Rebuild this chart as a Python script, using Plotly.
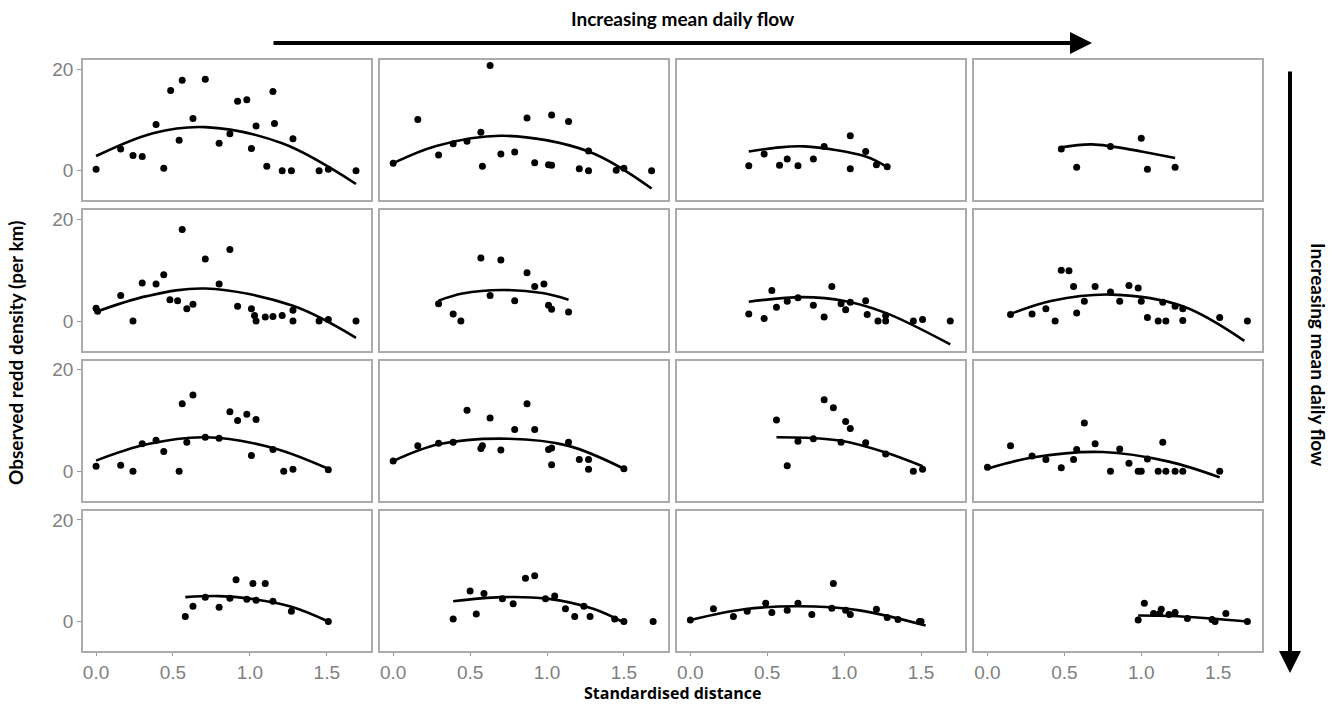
import plotly.graph_objects as go
from plotly.subplots import make_subplots

# ---------------- data ----------------
# Row 1
x_r1c1 = [0.00,0.16,0.24,0.30,0.39,0.44,0.485,0.54,0.56,0.63,0.71,0.80,0.87,0.92,0.98,1.01,1.04,1.11,1.15,1.16,1.21,1.27,1.28,1.45,1.51,1.69]
y_r1c1 = [0.3,4.3,3.0,2.8,9.1,0.5,15.8,6.0,17.8,10.3,18.0,5.4,7.3,13.7,14.0,4.4,8.8,0.9,15.6,9.3,0.0,0.0,6.3,0.0,0.3,0.0]
cx_r1c1 = [0.00,0.37,0.71,1.21,1.69]
cy_r1c1 = [2.9,7.4,8.6,5.4,-2.6]

x_r1c2 = [0.00,0.16,0.295,0.39,0.48,0.57,0.58,0.63,0.70,0.79,0.87,0.92,1.01,1.03,1.03,1.14,1.21,1.27,1.27,1.45,1.50,1.68]
y_r1c2 = [1.5,10.1,3.1,5.3,5.8,7.6,0.9,20.7,3.3,3.7,10.4,1.6,1.2,1.1,11.0,9.7,0.4,0.0,3.9,0.1,0.5,0.0]
cx_r1c2 = [0.00,0.28,0.71,1.27,1.68]
cy_r1c2 = [1.5,4.9,6.9,3.8,-3.5]

x_r1c3 = [0.38,0.48,0.58,0.63,0.70,0.80,0.87,1.04,1.04,1.14,1.21,1.28]
y_r1c3 = [1.0,3.3,1.1,2.3,1.0,2.3,4.8,6.9,0.4,3.8,1.2,0.8]
cx_r1c3 = [0.38,0.55,0.74,1.14,1.28]
cy_r1c3 = [3.8,4.5,4.8,2.8,0.7]

x_r1c4 = [0.48,0.58,0.80,1.00,1.04,1.22]
y_r1c4 = [4.3,0.7,4.8,6.4,0.3,0.7]
cx_r1c4 = [0.48,0.68,1.00,1.22]
cy_r1c4 = [4.6,5.2,3.8,2.5]

# Row 2
x_r2c1 = [0.00,0.01,0.16,0.24,0.30,0.39,0.44,0.48,0.53,0.56,0.59,0.63,0.71,0.80,0.87,0.92,1.01,1.03,1.04,1.10,1.15,1.21,1.28,1.28,1.45,1.51,1.69]
y_r2c1 = [2.5,1.9,5.0,0.0,7.5,7.3,9.1,4.2,4.0,18.0,2.4,3.3,12.2,7.3,14.1,2.9,2.4,1.1,0.0,0.8,0.9,1.1,2.1,0.0,0.0,0.3,0.0]
cx_r2c1 = [0.00,0.33,0.71,1.28,1.69]
cy_r2c1 = [1.8,4.9,6.4,3.0,-3.3]

x_r2c2 = [0.295,0.39,0.44,0.57,0.63,0.70,0.79,0.87,0.92,0.98,1.01,1.03,1.14]
y_r2c2 = [3.4,1.4,0.0,12.4,5.0,12.0,4.0,9.5,6.8,7.3,3.1,2.3,1.8]
cx_r2c2 = [0.295,0.45,0.71,0.97,1.14]
cy_r2c2 = [4.0,5.4,6.1,5.5,4.2]

x_r2c3 = [0.38,0.48,0.53,0.56,0.63,0.70,0.80,0.87,0.92,0.98,1.01,1.04,1.14,1.15,1.22,1.27,1.27,1.45,1.51,1.69]
y_r2c3 = [1.4,0.5,6.0,2.7,3.9,4.6,3.1,0.8,6.8,3.4,2.2,3.7,4.0,1.3,0.0,0.0,1.1,0.0,0.3,0.0]
cx_r2c3 = [0.38,0.73,1.01,1.27,1.69]
cy_r2c3 = [3.8,4.7,3.9,1.6,-4.6]

x_r2c4 = [0.15,0.29,0.38,0.44,0.48,0.53,0.56,0.58,0.63,0.70,0.80,0.86,0.92,0.98,1.00,1.04,1.11,1.14,1.16,1.22,1.27,1.27,1.51,1.69]
y_r2c4 = [1.3,1.4,2.4,0.0,10.0,9.9,6.8,1.6,3.9,6.8,5.7,3.9,7.0,6.5,3.9,0.7,0.0,3.7,0.0,2.9,2.4,0.1,0.7,0.0]
cx_r2c4 = [0.15,0.42,0.81,1.27,1.67]
cy_r2c4 = [1.4,4.0,5.2,2.9,-3.9]

# Row 3
x_r3c1 = [0.00,0.16,0.24,0.30,0.39,0.44,0.54,0.56,0.59,0.63,0.71,0.80,0.87,0.92,0.98,1.01,1.04,1.15,1.22,1.28,1.51]
y_r3c1 = [1.0,1.2,0.0,5.4,6.1,3.9,0.0,13.3,5.7,15.0,6.7,6.5,11.7,10.0,11.2,3.1,10.2,4.3,0.0,0.4,0.3]
cx_r3c1 = [0.00,0.33,0.71,1.15,1.51]
cy_r3c1 = [2.1,5.3,6.7,4.6,0.5]

x_r3c2 = [0.00,0.16,0.295,0.39,0.48,0.57,0.58,0.63,0.70,0.79,0.87,0.92,1.01,1.03,1.03,1.14,1.21,1.27,1.27,1.50]
y_r3c2 = [2.0,5.0,5.5,5.7,12.0,4.5,5.0,10.5,4.2,8.2,13.3,8.2,4.3,4.6,1.3,5.7,2.3,2.3,0.4,0.5]
cx_r3c2 = [0.00,0.295,0.75,1.14,1.50]
cy_r3c2 = [2.0,5.3,6.4,5.0,0.5]

x_r3c3 = [0.56,0.63,0.70,0.80,0.87,0.93,0.98,1.01,1.04,1.14,1.27,1.45,1.51]
y_r3c3 = [10.1,1.1,5.9,6.4,14.1,12.5,5.7,9.8,8.4,5.6,3.4,0.0,0.4]
cx_r3c3 = [0.56,0.75,0.98,1.27,1.51]
cy_r3c3 = [6.7,6.6,6.0,3.7,1.0]

x_r3c4 = [0.00,0.15,0.29,0.38,0.48,0.56,0.58,0.63,0.70,0.80,0.86,0.92,0.98,1.00,1.04,1.11,1.14,1.16,1.22,1.27,1.51]
y_r3c4 = [0.8,5.0,3.0,2.3,0.7,2.3,4.3,9.5,5.4,0.0,4.4,1.6,0.0,0.0,2.4,0.0,5.7,0.0,0.0,0.0,0.0]
cx_r3c4 = [0.00,0.29,0.75,1.18,1.51]
cy_r3c4 = [0.5,2.7,3.8,1.9,-1.2]

# Row 4
x_r4c1 = [0.58,0.63,0.71,0.80,0.87,0.91,0.98,1.02,1.04,1.10,1.15,1.27,1.51]
y_r4c1 = [1.0,3.0,4.8,2.8,4.6,8.2,4.4,7.5,4.2,7.5,4.0,2.0,0.0]
cx_r4c1 = [0.58,0.80,1.00,1.27,1.51]
cy_r4c1 = [4.8,5.0,4.5,2.9,0.0]

x_r4c2 = [0.39,0.50,0.54,0.59,0.71,0.78,0.86,0.92,0.99,1.05,1.12,1.18,1.24,1.28,1.44,1.50,1.69]
y_r4c2 = [0.5,6.0,1.5,5.5,4.5,3.5,8.5,9.0,4.5,5.0,2.5,1.0,3.0,1.0,0.5,0.0,0.0]
cx_r4c2 = [0.39,0.70,1.00,1.30,1.50]
cy_r4c2 = [4.0,4.8,4.5,2.5,-0.2]

x_r4c3 = [0.00,0.15,0.28,0.37,0.49,0.53,0.63,0.70,0.79,0.92,0.93,1.01,1.04,1.21,1.28,1.35,1.49,1.50]
y_r4c3 = [0.3,2.5,1.0,2.0,3.6,1.8,2.2,3.6,1.4,2.6,7.5,2.2,1.4,2.4,0.8,0.4,0.0,0.0]
cx_r4c3 = [0.00,0.35,0.70,1.10,1.53]
cy_r4c3 = [0.3,2.4,3.0,2.2,-0.8]

x_r4c4 = [0.98,1.02,1.08,1.12,1.13,1.18,1.22,1.30,1.46,1.48,1.55,1.69]
y_r4c4 = [0.3,3.6,1.6,1.6,2.4,1.4,1.8,0.6,0.4,0.0,1.6,0.0]
cx_r4c4 = [0.98,1.20,1.45,1.69]
cy_r4c4 = [1.2,1.1,0.6,0.0]

x_ticks = [0.0, 0.5, 1.0, 1.5]
x_tick_labels = ["0.0", "0.5", "1.0", "1.5"]
y_ticks = [0, 20]
y_tick_labels = ["0", "20"]

panels = [
    (1, 1, x_r1c1, y_r1c1, cx_r1c1, cy_r1c1), (1, 2, x_r1c2, y_r1c2, cx_r1c2, cy_r1c2),
    (1, 3, x_r1c3, y_r1c3, cx_r1c3, cy_r1c3), (1, 4, x_r1c4, y_r1c4, cx_r1c4, cy_r1c4),
    (2, 1, x_r2c1, y_r2c1, cx_r2c1, cy_r2c1), (2, 2, x_r2c2, y_r2c2, cx_r2c2, cy_r2c2),
    (2, 3, x_r2c3, y_r2c3, cx_r2c3, cy_r2c3), (2, 4, x_r2c4, y_r2c4, cx_r2c4, cy_r2c4),
    (3, 1, x_r3c1, y_r3c1, cx_r3c1, cy_r3c1), (3, 2, x_r3c2, y_r3c2, cx_r3c2, cy_r3c2),
    (3, 3, x_r3c3, y_r3c3, cx_r3c3, cy_r3c3), (3, 4, x_r3c4, y_r3c4, cx_r3c4, cy_r3c4),
    (4, 1, x_r4c1, y_r4c1, cx_r4c1, cy_r4c1), (4, 2, x_r4c2, y_r4c2, cx_r4c2, cy_r4c2),
    (4, 3, x_r4c3, y_r4c3, cx_r4c3, cy_r4c3), (4, 4, x_r4c4, y_r4c4, cx_r4c4, cy_r4c4),
]

# ---------------- figure ----------------
W, H = 1338, 705
L, R, T, B = 83, 76, 60, 54
pw, ph = W - L - R, H - T - B

fig = make_subplots(rows=4, cols=4,
                    horizontal_spacing=9.5 / pw,
                    vertical_spacing=10.0 / ph)

for (r, c, xs, ys, cxs, cys) in panels:
    fig.add_trace(go.Scatter(x=cxs, y=cys, mode="lines",
                             line=dict(color="black", width=2.6, shape="spline", smoothing=1.0),
                             showlegend=False, hoverinfo="skip"), row=r, col=c)
    fig.add_trace(go.Scatter(x=xs, y=ys, mode="markers",
                             marker=dict(color="black", size=7),
                             showlegend=False), row=r, col=c)

tick_font = dict(family="Liberation Sans, Arial, sans-serif", size=19, color="#808080")
for r in range(1, 5):
    for c in range(1, 5):
        fig.update_xaxes(range=[-0.085, 1.785], showgrid=False, zeroline=False,
                         showline=True, mirror=True, linecolor="#ababab", linewidth=1.6,
                         tickvals=x_ticks, ticktext=x_tick_labels,
                         showticklabels=(r == 4), ticks="outside" if r == 4 else "",
                         ticklen=3, tickcolor="#9a9a9a", tickfont=tick_font,
                         row=r, col=c)
        fig.update_yaxes(range=[-5.8, 21.8], showgrid=False, zeroline=False,
                         showline=True, mirror=True, linecolor="#ababab", linewidth=1.6,
                         tickvals=y_ticks, ticktext=y_tick_labels,
                         showticklabels=(c == 1), ticks="outside" if c == 1 else "",
                         ticklen=4, tickcolor="#9a9a9a", tickfont=tick_font,
                         row=r, col=c)

def px(xp):
    return (xp - L) / pw

def py(yp):
    return (H - B - yp) / ph

title_font = dict(family="Lato, Open Sans, sans-serif", size=19, color="black")
xtitle_font = dict(family="Open Sans, Lato, sans-serif", size=16, color="black")

annotations = [
    dict(text="<b>Increasing mean daily flow</b>", x=px(683), y=py(18), xref="paper", yref="paper",
         showarrow=False, font=title_font, xanchor="center", yanchor="middle"),
    dict(text="<b>Increasing mean daily flow</b>", x=px(1319), y=py(355), xref="paper", yref="paper",
         showarrow=False, font=title_font, textangle=90, xanchor="center", yanchor="middle"),
    dict(text="<b>Observed redd density (per km)</b>", x=px(15), y=py(353), xref="paper", yref="paper",
         showarrow=False, font=title_font, textangle=-90, xanchor="center", yanchor="middle"),
    dict(text="<b>Standardised distance</b>", x=px(672), y=py(693), xref="paper", yref="paper",
         showarrow=False, font=xtitle_font, xanchor="center", yanchor="middle"),
    # horizontal arrow
    dict(text="", x=px(1092), y=py(43), xref="paper", yref="paper",
         ax=-(1092 - 272), ay=0, axref="pixel", ayref="pixel",
         showarrow=True, arrowhead=2, arrowsize=1.1, arrowwidth=4, arrowcolor="black"),
    # vertical arrow
    dict(text="", x=px(1290), y=py(673), xref="paper", yref="paper",
         ax=0, ay=-(673 - 70), axref="pixel", ayref="pixel",
         showarrow=True, arrowhead=2, arrowsize=1.1, arrowwidth=4, arrowcolor="black"),
]

fig.update_layout(width=W, height=H, margin=dict(l=L, r=R, t=T, b=B),
                  plot_bgcolor="white", paper_bgcolor="white",
                  annotations=annotations, showlegend=False)

fig.write_html("out.html")
